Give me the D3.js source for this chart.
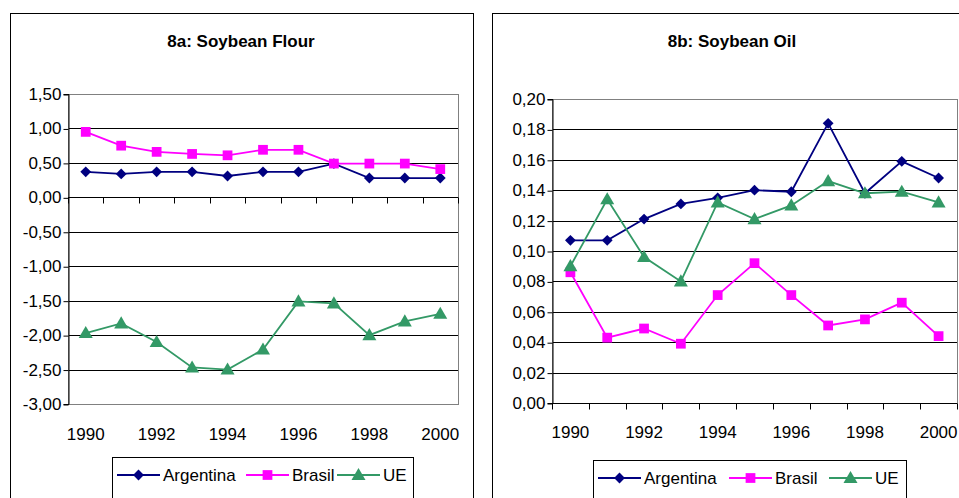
<!DOCTYPE html>
<html>
<head>
<meta charset="utf-8">
<script src="https://cdn.jsdelivr.net/npm/d3@7"></script>
<style>
  body { margin: 0; background: #fff; }
  svg { display: block; font-family: "Liberation Sans", Arial, sans-serif; }
</style>
</head>
<body>
<svg id="chart" width="959" height="498"></svg>
<script>
// data
const years = [1990, 1991, 1992, 1993, 1994, 1995, 1996, 1997, 1998, 1999, 2000];
const yearLabels = [1990, 1992, 1994, 1996, 1998, 2000];
const seriesNames = ["Argentina", "Brasil", "UE"];

// 8a: Soybean Flour
const flourArgentina = [0.37, 0.34, 0.37, 0.37, 0.31, 0.37, 0.37, 0.49, 0.28, 0.28, 0.28];
const flourBrasil = [0.95, 0.75, 0.66, 0.63, 0.61, 0.69, 0.69, 0.49, 0.49, 0.49, 0.41];
const flourUE = [-1.97, -1.83, -2.10, -2.47, -2.50, -2.21, -1.51, -1.54, -2.00, -1.80, -1.69];
const flourTicks = [-3, -2.5, -2, -1.5, -1, -0.5, 0, 0.5, 1, 1.5];

// 8b: Soybean Oil
const oilArgentina = [0.107, 0.107, 0.121, 0.131, 0.135, 0.140, 0.139, 0.184, 0.138, 0.159, 0.148];
const oilBrasil = [0.086, 0.043, 0.049, 0.039, 0.071, 0.092, 0.071, 0.051, 0.055, 0.066, 0.044];
const oilUE = [0.090, 0.134, 0.096, 0.080, 0.132, 0.121, 0.130, 0.146, 0.138, 0.139, 0.132];
const oilTicks = [0, 0.02, 0.04, 0.06, 0.08, 0.10, 0.12, 0.14, 0.16, 0.18, 0.20];

const colors = { Argentina: "#000080", Brasil: "#ff00ff", UE: "#339966" };
const symbols = { Argentina: d3.symbolDiamond2, Brasil: d3.symbolSquare, UE: d3.symbolTriangle };
const symSize = { Argentina: 75, Brasil: 95, UE: 85 };

const svg = d3.select("#chart");
const fmt = v => d3.format(".2f")(v).replace(".", ",").replace("−", "-");
const fs = 17;

function drawChart(cfg) {
  const g = svg.append("g");

  // outer frame
  g.append("rect")
    .attr("x", cfg.frame[0] + 0.5).attr("y", cfg.frame[1] + 0.5)
    .attr("width", cfg.frame[2]).attr("height", cfg.frame[3])
    .attr("fill", "none").attr("stroke", "#000");

  g.append("text")
    .attr("x", cfg.titleX).attr("y", 47)
    .attr("text-anchor", "middle")
    .attr("font-size", 17).attr("font-weight", "bold")
    .text(cfg.title);

  const x = d3.scaleBand().domain(years).range([cfg.left, cfg.right]).padding(0);
  const y = d3.scaleLinear().domain(cfg.domain).range([cfg.bottom, cfg.top]);

  // gridlines
  g.append("g").selectAll("line")
    .data(cfg.ticks.filter(t => t !== cfg.domain[0] && t !== cfg.domain[1] && t !== 0))
    .join("line")
    .attr("x1", cfg.left).attr("x2", cfg.right)
    .attr("y1", d => Math.round(y(d)) + 0.5).attr("y2", d => Math.round(y(d)) + 0.5)
    .attr("stroke", "#000");

  // plot area border (grey)
  g.append("rect")
    .attr("x", cfg.left + 0.5).attr("y", Math.round(y(cfg.domain[1])) + 0.5)
    .attr("width", cfg.right - cfg.left)
    .attr("height", Math.round(y(cfg.domain[0])) - Math.round(y(cfg.domain[1])))
    .attr("fill", "none").attr("stroke", "#808080");

  // y axis
  const yAxis = d3.axisLeft(y).tickValues(cfg.ticks).tickFormat(fmt).tickSize(5).tickPadding(2);
  g.append("g")
    .attr("transform", `translate(${cfg.left + 0.5},0)`)
    .call(yAxis)
    .call(a => a.selectAll("text").attr("font-size", fs).attr("fill", "#000").attr("font-family", null))
    .call(a => a.selectAll("line").attr("stroke", "#000").attr("transform", "translate(0,0.5)"))
    .call(a => a.select(".domain").attr("stroke", "#000"));

  // x axis line at zero with ticks at category boundaries
  const y0 = Math.round(y(0)) + 0.5;
  const xa = g.append("g");
  xa.append("line")
    .attr("x1", cfg.left).attr("x2", cfg.right)
    .attr("y1", y0).attr("y2", y0).attr("stroke", "#000");
  xa.selectAll("line.tick")
    .data(years.map(d => x(d)).concat([cfg.right]))
    .join("line").attr("class", "tick")
    .attr("x1", d => Math.round(d) + 0.5).attr("x2", d => Math.round(d) + 0.5)
    .attr("y1", y0).attr("y2", y0 + 6)
    .attr("stroke", "#000");

  // year labels below the plot
  g.append("g").selectAll("text")
    .data(yearLabels)
    .join("text")
    .attr("x", d => x(d) + x.bandwidth() / 2)
    .attr("y", cfg.labelY)
    .attr("text-anchor", "middle")
    .attr("font-size", fs)
    .text(d => d);

  // series
  const line = d3.line().x(d => x(d.year) + x.bandwidth() / 2).y(d => y(d.v));
  cfg.series.forEach((vals, i) => {
    const name = seriesNames[i];
    const pts = years.map((yr, j) => ({ year: yr, v: vals[j] }));
    g.append("path").datum(pts)
      .attr("d", line).attr("fill", "none")
      .attr("stroke", colors[name]).attr("stroke-width", 1.8);
    g.append("g").selectAll("path")
      .data(pts).join("path")
      .attr("transform", d => `translate(${x(d.year) + x.bandwidth() / 2},${y(d.v) + (name === "UE" ? 1 : 0)})`)
      .attr("d", d3.symbol(symbols[name], symSize[name]))
      .attr("fill", colors[name]);
  });

  // legend
  const lg = cfg.legend;
  g.append("rect")
    .attr("x", lg.x + 0.5).attr("y", lg.y + 0.5)
    .attr("width", lg.w).attr("height", 60)
    .attr("fill", "#fff").attr("stroke", "#000");
  seriesNames.forEach((name, i) => {
    const lx = lg.items[i];
    g.append("line")
      .attr("x1", lx).attr("x2", lx + 43)
      .attr("y1", lg.lineY).attr("y2", lg.lineY)
      .attr("stroke", colors[name]).attr("stroke-width", 1.8);
    g.append("path")
      .attr("transform", `translate(${lx + 21.5},${lg.lineY + (name === "UE" ? 1 : 0)})`)
      .attr("d", d3.symbol(symbols[name], symSize[name]))
      .attr("fill", colors[name]);
    g.append("text")
      .attr("x", lx + 46).attr("y", lg.lineY + 6)
      .attr("font-size", fs)
      .text(name);
  });
}

drawChart({
  title: "8a: Soybean Flour", titleX: 241,
  frame: [10, 13, 463, 520],
  left: 68, right: 458, top: 94, bottom: 404,
  domain: [-3, 1.5], ticks: flourTicks,
  labelY: 440,
  series: [flourArgentina, flourBrasil, flourUE],
  legend: { x: 112, y: 457, w: 301, lineY: 475, items: [117, 246, 337] }
});

drawChart({
  title: "8b: Soybean Oil", titleX: 732,
  frame: [492, 13, 480, 520],
  left: 552, right: 957, top: 99, bottom: 403,
  domain: [0, 0.2], ticks: oilTicks,
  labelY: 438,
  series: [oilArgentina, oilBrasil, oilUE],
  legend: { x: 593, y: 460, w: 313, lineY: 478, items: [598, 729, 829] }
});
</script>
</body>
</html>
